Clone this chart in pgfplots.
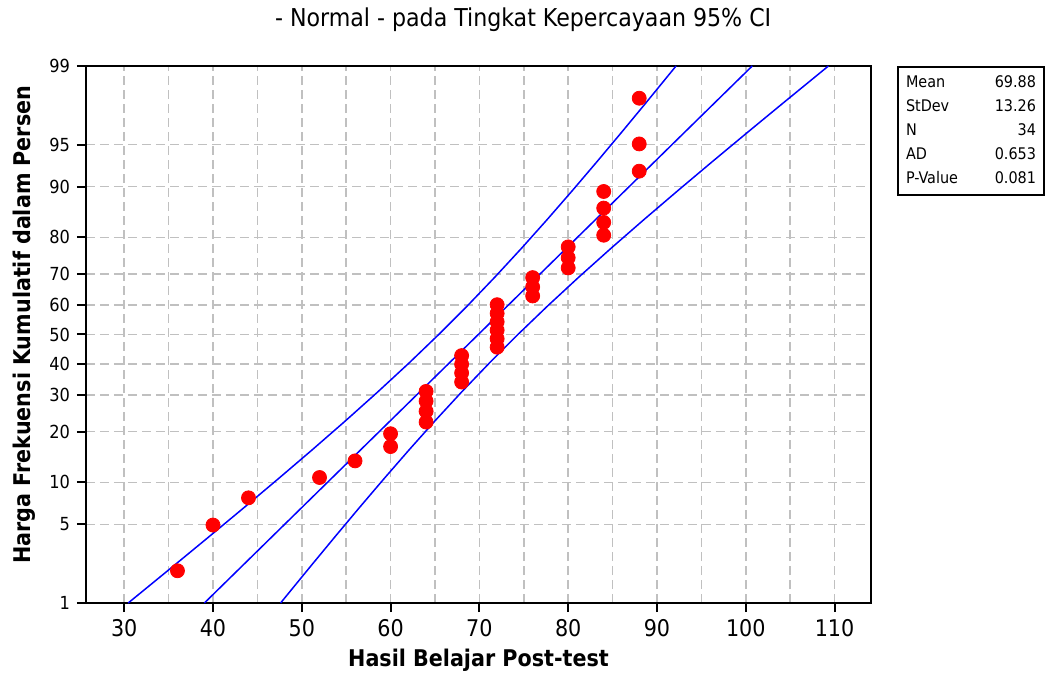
\documentclass[border=0pt]{standalone}
\usepackage{fontspec}
\setmainfont{DejaVu Sans Condensed}
\usepackage{pgfplots}
\pgfplotsset{compat=1.18}
\definecolor{gridgray}{RGB}{192,192,192}

\begin{document}
\begin{tikzpicture}
% page extent (keeps the margins of the reference)
\path (-43pt,-35.75pt) rectangle (480pt,301.5pt);
\begin{axis}[
    scale only axis,
    width=392.5pt,
    height=268.5pt,
    xmin=25.7, xmax=114.1,
    ymin=-2.3263, ymax=2.3263,
    xtick={30,40,...,110},
    minor xtick={35,45,...,105},
    ytick={-2.3263,-1.6449,-1.2816,-0.8416,-0.5244,-0.2533,0,0.2533,0.5244,0.8416,1.2816,1.6449,2.3263},
    yticklabels={1,5,10,20,30,40,50,60,70,80,90,95,99},
    xtick pos=bottom,
    ytick pos=left,
    grid=both,
    major grid style={gridgray, line width=0.8pt, dash pattern=on 4.5pt off 2.5pt},
    minor grid style={gridgray, line width=0.8pt, dash pattern=on 4.5pt off 2.5pt},
    axis line style={black, line width=1pt},
    tick align=outside,
    major tick length=4.5pt,
    minor tick length=0pt,
    tick style={black, line width=1pt},
    /pgf/number format/assume math mode=true,
    xticklabel style={font=\fontsize{11.5}{12}\selectfont},
    yticklabel style={font=\fontsize{9}{10}\selectfont},
    xlabel={\textbf{Hasil Belajar Post-test}},
    xlabel style={font=\fontsize{11.5}{12}\selectfont, at={(axis description cs:0.5,-0.106)}, anchor=center},
    ylabel={\textbf{Harga Frekuensi Kumulatif dalam Persen}},
    ylabel style={font=\fontsize{11.5}{12}\selectfont, at={(axis description cs:-0.079,0.518)}, anchor=center, rotate=0},
    clip=true,
]
% fitted line
\addplot[blue, line width=0.75pt] coordinates {(39.033,-2.3263) (100.727,2.3263)};
% lower 95% band (left)
\addplot[blue, line width=0.75pt] coordinates {
    (30.453,-2.3263) (35.640,-2) (39.584,-1.75) (43.493,-1.5) (47.356,-1.25)
    (51.161,-1) (54.890,-0.75) (58.522,-0.5) (62.039,-0.25) (65.423,0)
    (68.669,0.25) (71.782,0.5) (74.780,0.75) (77.681,1) (80.506,1.25)
    (83.273,1.5) (85.994,1.75) (88.680,2) (92.147,2.3263)
};
% upper 95% band (right)
\addplot[blue, line width=0.75pt] coordinates {
    (47.613,-2.3263) (51.080,-2) (53.766,-1.75) (56.487,-1.5) (59.254,-1.25)
    (62.079,-1) (64.980,-0.75) (67.978,-0.5) (71.091,-0.25) (74.337,0)
    (77.721,0.25) (81.238,0.5) (84.870,0.75) (88.599,1) (92.404,1.25)
    (96.267,1.5) (100.176,1.75) (104.120,2) (109.307,2.3263)
};
% data, median ranks (i-0.3)/(n+0.4) as normal scores
\addplot[only marks, mark=*, mark size=3.5pt, color=red, mark options={draw=red, fill=red}] coordinates {
    (36,-2.047) (40,-1.651) (44,-1.415) (52,-1.239) (56,-1.095)
    (60,-0.971) (60,-0.860)
    (64,-0.759) (64,-0.665) (64,-0.577) (64,-0.493)
    (68,-0.412) (68,-0.334) (68,-0.258) (68,-0.183)
    (72,-0.110) (72,-0.037) (72,0.037) (72,0.110) (72,0.183) (72,0.258)
    (76,0.334) (76,0.412) (76,0.493)
    (80,0.577) (80,0.665) (80,0.759)
    (84,0.860) (84,0.971) (84,1.095) (84,1.239)
    (88,1.415) (88,1.651) (88,2.047)
};
\end{axis}
\node[font=\fontsize{12.3}{13}\selectfont, anchor=center] at (218.6pt,291.5pt) {- Normal - pada Tingkat Kepercayaan 95\% CI};
\node[draw, line width=1pt, anchor=north west, inner xsep=4pt, inner ysep=2pt, font=\fontsize{8}{12}\selectfont]
  at (405.5pt,268.5pt) {%
  \begin{tabular*}{65pt}{@{}l@{\extracolsep{\fill}}r@{}}
  Mean & 69.88\\
  StDev & 13.26\\
  N & 34\\
  AD & 0.653\\
  P-Value & 0.081
  \end{tabular*}};
\end{tikzpicture}
\end{document}
